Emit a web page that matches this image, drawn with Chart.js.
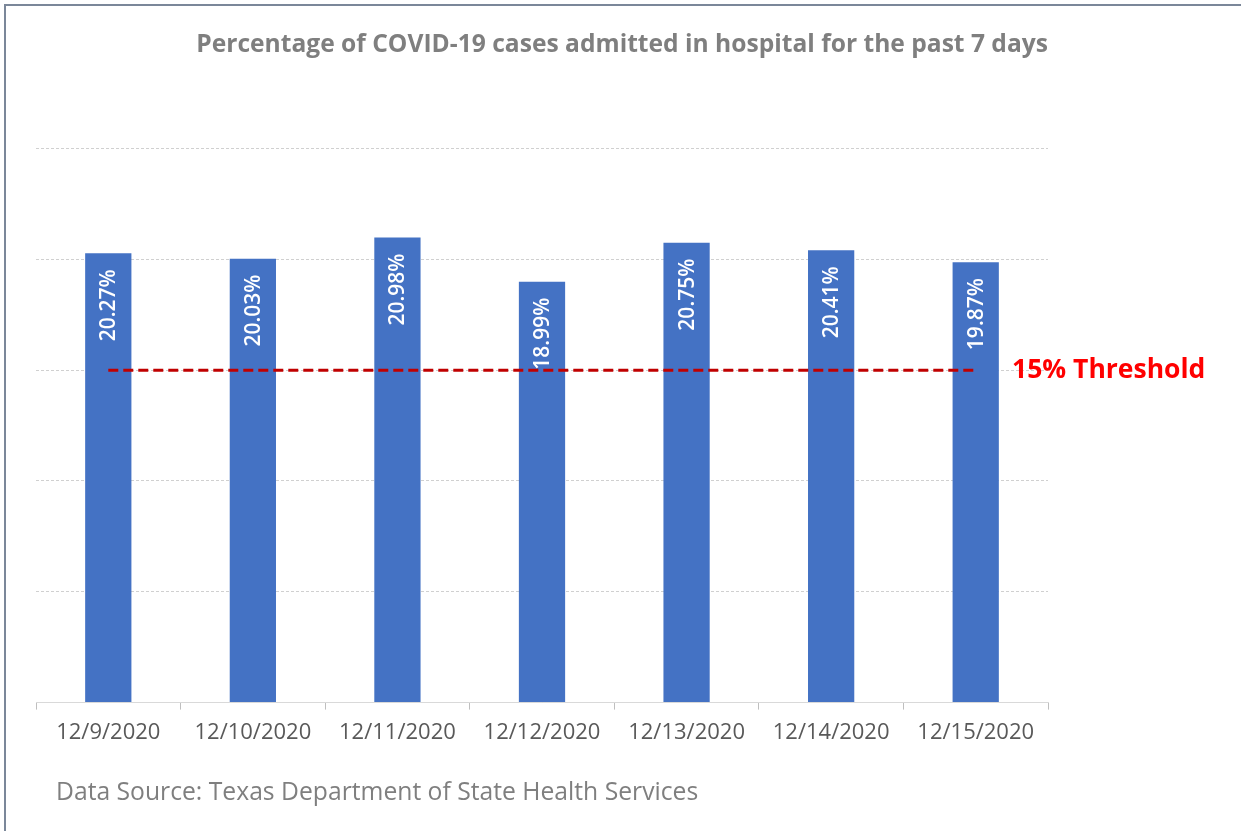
<!DOCTYPE html>
<html>
<head>
<meta charset="utf-8">
<script src="https://cdn.jsdelivr.net/npm/chart.js@4"></script>
<style>
  html, body { margin: 0; padding: 0; background: #fff; overflow: hidden; }
  #frame { position: absolute; left: 4px; top: 4px; width: 1300px; height: 900px;
           border-left: 2px solid #7b8799; border-top: 2px solid #7b8799; }
  #wrap { position: absolute; left: 0; top: 0; width: 1241px; height: 831px; }
</style>
</head>
<body>
<div id="frame"></div>
<div id="wrap"><canvas id="hospChart" width="1241" height="831"></canvas></div>
<script>
// values
const dates = ['12/9/2020', '12/10/2020', '12/11/2020', '12/12/2020', '12/13/2020', '12/14/2020', '12/15/2020'];
const admittedPct = [20.27, 20.03, 20.98, 18.99, 20.75, 20.41, 19.87];
const thresholdPct = [15, 15, 15, 15, 15, 15, 15];
const yTicks = [0, 5, 10, 15, 20, 25];

const FONT = '"Open Sans", "DejaVu Sans", sans-serif';

// white rotated value labels inside the top of each bar + the side texts
const labelsPlugin = {
  id: 'labelsPlugin',
  afterDatasetsDraw(chart) {
    const ctx = chart.ctx;
    const meta = chart.getDatasetMeta(1); // the bars
    ctx.save();
    ctx.fillStyle = '#ffffff';
    ctx.font = '600 21px ' + FONT;
    meta.data.forEach((bar, i) => {
      ctx.save();
      ctx.translate(bar.x, bar.y + 16);
      ctx.rotate(-Math.PI / 2);
      ctx.textAlign = 'right';
      ctx.textBaseline = 'middle';
      ctx.fillText(admittedPct[i].toFixed(2) + '%', 0, 1);
      ctx.restore();
    });
    ctx.restore();
  },
  afterDraw(chart) {
    const ctx = chart.ctx;
    const y = chart.scales.y;
    ctx.save();
    ctx.fillStyle = '#ff0000';
    ctx.font = 'bold 26.5px ' + FONT;
    ctx.textAlign = 'left';
    ctx.textBaseline = 'middle';
    ctx.fillText('15% Threshold', 1012, y.getPixelForValue(15));
    ctx.fillStyle = '#7f7f7f';
    ctx.font = '24.7px ' + FONT;
    ctx.textBaseline = 'alphabetic';
    ctx.fillText('Data Source: Texas Department of State Health Services', 56, 800);
    ctx.restore();
  }
};

new Chart(document.getElementById('hospChart').getContext('2d'), {
  type: 'bar',
  data: {
    labels: dates,
    datasets: [
      {
        type: 'line',
        label: '15% Threshold',
        data: thresholdPct,
        borderColor: '#c00000',
        borderWidth: 3,
        borderDash: [10, 5],
        pointRadius: 0,
        fill: false,
        order: 0
      },
      {
        label: 'Percentage admitted',
        data: admittedPct,
        backgroundColor: '#4472c4',
        barPercentage: 0.32,
        categoryPercentage: 1,
        order: 1
      }
    ]
  },
  options: {
    responsive: false,
    animation: false,
    layout: { padding: { left: 36, right: 193, top: 0, bottom: 75 } },
    scales: {
      x: {
        grid: { offset: true, drawOnChartArea: false, drawTicks: true, tickLength: 7, color: '#bfbfbf' },
        border: { display: true, color: '#d9d9d9', width: 1 },
        ticks: { color: '#595959', font: { family: FONT, size: 22 }, padding: 10, maxRotation: 0 }
      },
      y: {
        min: 0,
        max: 25,
        afterBuildTicks: (axis) => { axis.ticks = yTicks.map(v => ({ value: v })); },
        ticks: { display: false },
        border: { display: false, dash: [3, 2] },
        grid: { color: '#d0d0d0', drawTicks: false, lineWidth: 1 }
      }
    },
    plugins: {
      legend: { display: false },
      tooltip: { enabled: false },
      title: {
        display: true,
        text: 'Percentage of COVID-19 cases admitted in hospital for the past 7 days',
        align: 'end',
        color: '#7f7f7f',
        font: { family: FONT, size: 24.6, weight: 'bold' },
        padding: { top: 30, bottom: 89 }
      }
    }
  },
  plugins: [labelsPlugin]
});
</script>
</body>
</html>
